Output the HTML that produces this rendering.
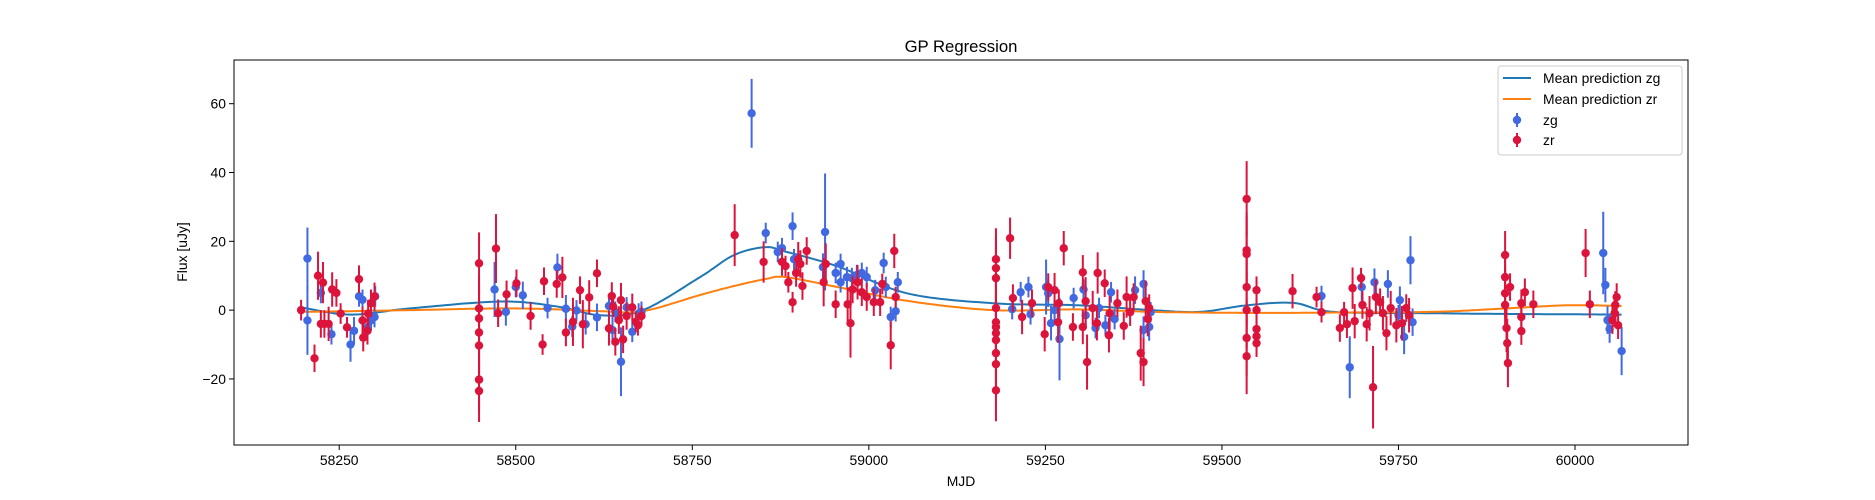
<!DOCTYPE html>
<html><head><meta charset="utf-8"><style>
body{margin:0;background:#fff;}
svg{display:block;font-family:"Liberation Sans","DejaVu Sans",sans-serif;}
</style></head><body>
<svg id="chart" width="1875" height="500">
<rect x="0" y="0" width="1875" height="500" fill="#fff"/>
<text x="961" y="52" text-anchor="middle" font-size="16.7" fill="#000">GP Regression</text>
<g id="plot"></g>
<g id="axes"></g>
<text x="961" y="486" text-anchor="middle" font-size="13.9">MJD</text>
<text transform="translate(187,252) rotate(-90)" text-anchor="middle" font-size="13.9">Flux [uJy]</text>
<g>
<rect x="1498" y="66" width="184" height="89" rx="3" fill="#fff" fill-opacity="0.8" stroke="#ccc"/>
<g><line x1="1503" y1="78" x2="1531" y2="78" stroke="#1f77b4" stroke-width="2"/><text x="1543" y="83" font-size="13.9">Mean prediction zg</text></g>
<g><line x1="1503" y1="99" x2="1531" y2="99" stroke="#ff7f0e" stroke-width="2"/><text x="1543" y="104" font-size="13.9">Mean prediction zr</text></g>
<g><line x1="1517" y1="113" x2="1517" y2="127" stroke="#4169E1" stroke-width="2"/><circle cx="1517" cy="120" r="4.2" fill="#4169E1"/><text x="1543" y="125" font-size="13.9">zg</text></g>
<g><line x1="1517" y1="133" x2="1517" y2="147" stroke="#DC143C" stroke-width="2"/><circle cx="1517" cy="140" r="4.2" fill="#DC143C"/><text x="1543" y="145" font-size="13.9">zr</text></g>
</g>
</svg>
<script>
const xTicks=[58250,58500,58750,59000,59250,59500,59750,60000];
const yTicks=[-20,0,20,40,60];
const zgMJD=[58205,58205,58224,58239,58266,58271,58278,58283,58290,58295,58300,58301,
58470,58486,58500,58510,58545,58559,58571,58580,58586,58599,58615,58632,58637,58641,58649,58657,58665,58674,58678,
58834,58854,58892,58938,58871,58877,58894,58935,58953,58960,58960,58969,58976,58983,58990,58997,59009,59021,59024,59031,59038,59041,
59203,59215,59226,59229,59251,59254,59258,59270,59263,59290,59304,59307,59321,59326,59335,59343,59348,59377,59389,59389,59397,59399,
59641,59681,59698,59716,59735,59752,59758,59767,59770,59750,60040,60043,60046,60049,60066];
const zgFlux=[15,-3,5,-7,-10,-6,4,3,-5,-3,-2,4,
6,-0.5,6.7,4.3,0.6,12.4,0.4,-4.8,-0.1,-4.1,-2.1,1.2,-5.8,-0.5,-15,0.8,-6.3,-1,-0.5,
57.2,22.4,24.4,22.7,16.9,18,14.8,12.5,10.8,13.4,8.1,9.6,9.3,10.2,10.8,9.6,5.8,13.7,6.7,-2,-0.3,8.1,
0.3,5.2,6.7,-1.2,6.7,4.9,-3.8,-8.4,0,3.5,6,-1.5,-5.2,0.6,-4.4,5.2,-2.6,5.8,7.6,-5.8,-4.9,-0.6,
4.1,-16.6,6.7,8.1,7.6,2.9,-7.8,14.5,-3.5,-1.5,16.6,7.3,-2.9,-5.5,-11.9];
const zgErr=[9,10,3,3,5,4,3,3,4,3,3,3,
8,4,3,4,3,4,4,3,3,3,4,3,4,3,10,3,3,3,3,
10,3,4,17,3,3,3,4,3,3,3,3,3,3,3,3,3,3,3,3,3,3,
3,3,3,3,8,4,5,12,3,3,3,4,3,3,3,3,3,4,4,4,4,3,
3,9,4,4,4,4,5,7,4,3,12,5,4,4,7];
const zrMJD=[58196,58215,58220,58224,58227,58229,58235,58240,58246,58252,58261,58278,58283,58284,58290,58291,58295,58300,
58448,58448,58448,58448,58448,58448,58448,58472,58475,58487,58501,58521,58538,58540,58558,58566,58571,58581,58591,58595,58604,58615,58632,58636,58638,58641,58646,58649,58652,58657,58665,58670,58673,58678,
58810,58851,58877,58882,58886,58892,58897,58900,58903,58906,58912,58936,58939,58953,58970,58974,58977,58984,58990,58997,59007,59016,59019,59031,59036,59038,
59180,59180,59180,59180,59180,59180,59180,59180,59180,59180,59180,59200,59204,59217,59231,59249,59254,59263,59268,59269,59276,59289,59303,59303,59307,59309,59317,59323,59324,59334,59340,59341,59352,59361,59365,59370,59375,59385,59389,59392,59395,59397,
59535,59535,59535,59535,59535,59535,59535,59549,59549,59549,59549,59549,59600,59634,59641,
59667,59673,59677,59685,59688,59697,59699,59705,59709,59714,59718,59724,59728,59733,59739,59747,59755,59761,59765,
59901,59901,59901,59901,59903,59904,59905,59908,59924,59924,59924,59929,59941,60015,60021,60053,60056,60057,60059,60061];
const zrFlux=[0,-14,10,-4,8,-4,-4,6,5,-1,-5,9,-3,-8,-6,-1,2,4,
13.6,0.5,-2.4,-6.5,-10.3,-20.2,-23.5,17.9,-0.9,4.6,7.8,-1.7,-10,8.4,7.6,9.5,-6.5,-3.4,5.8,-4.1,3.7,10.7,-5.3,4.1,1,-9.2,-2.9,2.9,-8.5,-1.7,0.8,-3.4,-4.4,-1.7,
21.8,14,14,12.8,8.1,2.3,10.8,14.8,13.4,7,17.2,8.1,13.4,1.7,1.7,-3.8,6,8.1,5.2,3.8,2.3,2.3,7.6,-10.2,17.2,3.8,
14.8,12.2,9.3,0.6,-3.5,-4.9,-6.7,-8.7,-12.5,-15.7,-23.3,20.9,3.5,-2,2,-7,6.7,5.8,-3.5,2,18,-4.9,11,-4.9,2.6,-15.1,0.6,-3.8,10.8,7.8,-7.3,-0.9,2,-4.6,3.8,-0.6,3.8,-12.5,-15.1,2.6,-2.6,0.6,
32.3,17.4,16.3,6.7,0,-8.1,-13.4,5.8,0,-5.5,-7.6,-9.6,5.5,3.8,-0.6,
-5.2,-0.6,-4.1,6.4,-3.2,9.3,1.5,-4.1,-0.9,-22.4,3.8,2.3,-0.9,-6.7,0.6,-4.4,-3.8,0.6,-1.5,
16,9.6,4.9,1.5,-5.2,-9.6,-15.4,6.7,2,-2,-6.1,5.2,1.7,16.6,1.7,-2.9,-0.9,1.5,3.8,-4.4];
const zrErr=[3,4,7,4,6,4,5,5,4,3,3,4,4,4,4,4,4,4,
9,9,9,9,9,9,9,10,4,4,4,4,3,4,4,6,4,7,4,7,5,4,5,4,3,4,4,5,4,4,4,3,3,3,
9,6,4,3,3,3,4,5,4,4,4,7,6,4,5,10,4,5,4,4,4,4,3,7,5,3,
9,9,9,9,9,9,9,9,9,9,9,6,4,5,4,5,4,5,6,4,5,4,5,5,7,8,5,5,6,4,5,5,4,4,6,4,4,8,7,6,5,4,
11,11,11,11,11,11,11,4,4,4,4,4,5,3,3,
4,3,4,6,5,3,4,5,5,12,5,4,5,5,5,5,5,4,5,
7,7,7,7,7,7,7,4,4,4,4,4,4,7,4,4,4,4,4,4];
const gpMJD=[58196,58266,58350,58480,58560,58620,58680,58761,58809,58853,58882,58956,59054,59176,59297,59400,59469,59535,59601,59658,59799,59894,59988,60066];
const gpZg=[0.8,-1.3,0.5,2.5,1,-1.5,0,9.6,16,18.3,17,12.7,4.9,2,1.4,0,-0.5,1.4,2.1,-0.5,-0.9,-1.1,-1.2,-1.3];
const gpZr=[-0.5,-0.3,0,0.5,0.2,-0.3,-0.3,4.4,7,9,9.6,6.7,2.7,0,0.2,-0.5,-0.7,-0.8,-0.8,-0.7,-0.5,0.4,1.4,1.2];

const X0=234,X1=1688,Y0=60,Y1=445,xmin=58101,xmax=60160,ymin=-39.2,ymax=72.7;
const sx=v=>X0+(v-xmin)/(xmax-xmin)*(X1-X0);
const sy=v=>Y1-(v-ymin)/(ymax-ymin)*(Y1-Y0);
const NS='http://www.w3.org/2000/svg';
function mk(tag,attrs,parent){const e=document.createElementNS(NS,tag);for(const k in attrs)e.setAttribute(k,attrs[k]);parent.appendChild(e);return e;}
const plot=document.getElementById('plot'),axes=document.getElementById('axes');
function smooth(xs,ys){
  const pts=[];
  for(let i=0;i<xs.length-1;i++){
    const p0=i>0?i-1:i,p3=i+2<xs.length?i+2:i+1;
    for(let t=0;t<1;t+=0.05){
      const t2=t*t,t3=t2*t;
      const f=(a,b,c,d)=>0.5*((2*b)+(-a+c)*t+(2*a-5*b+4*c-d)*t2+(-a+3*b-3*c+d)*t3);
      pts.push([sx(f(xs[p0],xs[i],xs[i+1],xs[p3])),sy(f(ys[p0],ys[i],ys[i+1],ys[p3]))]);
    }
  }
  pts.push([sx(xs[xs.length-1]),sy(ys[ys.length-1])]);
  return 'M'+pts.map(p=>p[0].toFixed(1)+','+p[1].toFixed(1)).join('L');
}
function series(xs,ys,es,color,name){
  const g=mk('g',{},plot);
  
  
  for(let i=0;i<xs.length;i++){
    const l=mk('line',{x1:sx(xs[i]),x2:sx(xs[i]),y1:sy(ys[i]-es[i]),y2:sy(ys[i]+es[i]),stroke:color,'stroke-width':2},g);
    
    
    const c=mk('circle',{cx:sx(xs[i]),cy:sy(ys[i]),r:4.2,fill:color},g);
    
    
  }
}
const lz=mk('path',{d:smooth(gpMJD,gpZg),fill:'none',stroke:'#1f77b4','stroke-width':2},plot);


const lr=mk('path',{d:smooth(gpMJD,gpZr),fill:'none',stroke:'#ff7f0e','stroke-width':2},plot);


series(zgMJD,zgFlux,zgErr,'#4169E1','zg');
series(zrMJD,zrFlux,zrErr,'#DC143C','zr');
const fr=mk('rect',{x:X0,y:Y0,width:X1-X0,height:Y1-Y0,fill:'none',stroke:'#000','stroke-width':1},axes);


xTicks.forEach(v=>{
  const t=mk('line',{x1:sx(v),x2:sx(v),y1:Y1,y2:Y1+5,stroke:'#000'},axes);
  
  
  const tx=mk('text',{x:sx(v),y:Y1+20,'text-anchor':'middle','font-size':13.9},axes);
  tx.textContent=v;
  
  
});
yTicks.forEach(v=>{
  const t=mk('line',{x1:X0-5,x2:X0,y1:sy(v),y2:sy(v),stroke:'#000'},axes);
  
  
  const tx=mk('text',{x:X0-8,y:sy(v)+5,'text-anchor':'end','font-size':13.9},axes);
  tx.textContent=v<0?'\u2212'+(-v):v;
  
  
});
</script>
</body></html>
